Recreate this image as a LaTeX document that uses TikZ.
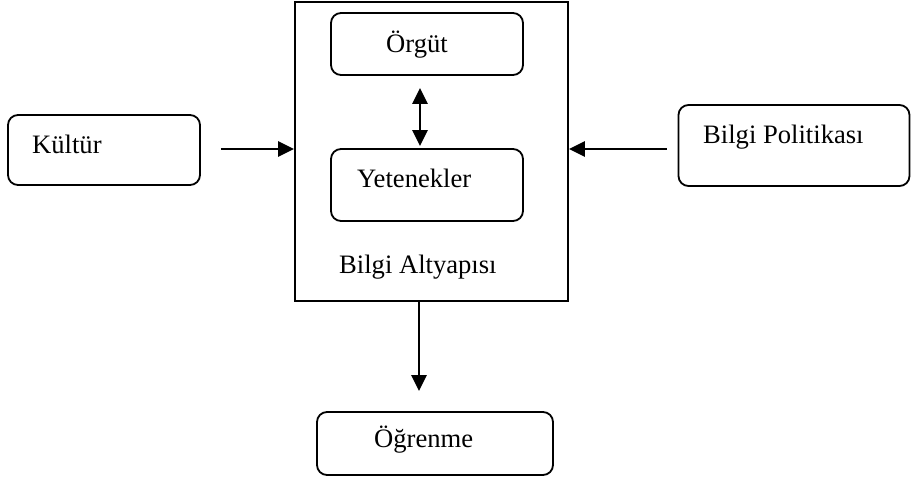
\documentclass[tikz,border=0pt]{standalone}
\usepackage{fontspec}
\setmainfont{Liberation Serif}
\usetikzlibrary{arrows.meta,calc}
\begin{document}
\begin{tikzpicture}[x=1pt,y=-1pt,
  box/.style={draw, line width=1.8pt, rounded corners=10pt, inner sep=0pt},
  frame/.style={draw, line width=1.8pt, inner sep=0pt},
  lbl/.style={anchor=base west, inner sep=0pt, font=\fontsize{26.6}{30}\selectfont},
  arr/.style={line width=2.8pt, -{Triangle[length=16pt,width=15pt]}},
  dblarr/.style={line width=2.8pt, {Triangle[length=16pt,width=15pt]}-{Triangle[length=16pt,width=15pt]}}]
\useasboundingbox (0,0) rectangle (911,482);
% outer infrastructure frame
\node[frame, minimum width=273pt, minimum height=299pt] (infra) at (431.5,151.5) {};
% rounded boxes
\node[box, minimum width=192pt, minimum height=70pt] (kultur) at (104,150) {};
\node[box, minimum width=192pt, minimum height=62pt] (orgut) at (427,44) {};
\node[box, minimum width=192pt, minimum height=72pt] (yet) at (427,185) {};
\node[box, minimum width=231pt, minimum height=81pt] (polit) at (794,145.5) {};
\node[box, minimum width=236pt, minimum height=63pt] (ogr) at (435,443.5) {};
% labels
\node[lbl] (tkultur) at (32,153) {Kültür};
\node[lbl] (torgut) at (386,52) {Örgüt};
\node[lbl] (tyet) at (357,187) {Yetenekler};
\node[lbl] (tinfra) at (339,273) {Bilgi Altyapısı};
\node[lbl] (tpolit) at (703,143) {Bilgi Politikası};
\node[lbl] (togr) at (374,447) {Öğrenme};
% connectors
\coordinate (kstart) at ($(kultur.east)+(20,-1)$);
\draw[arr] (kstart) -- (kstart -| infra.west);
\coordinate (pstart) at ($(polit.west)+(-11,3.5)$);
\draw[arr] (pstart) -- (pstart -| infra.east);
\draw[dblarr] ($(orgut.south)+(-7,12)$) -- ($(yet.north)+(-7,-2)$);
\coordinate (dstart) at (infra.south -| 419,0);
\draw[arr] (dstart) -- ($(dstart |- ogr.north)+(0,-20)$);
\end{tikzpicture}
\end{document}
